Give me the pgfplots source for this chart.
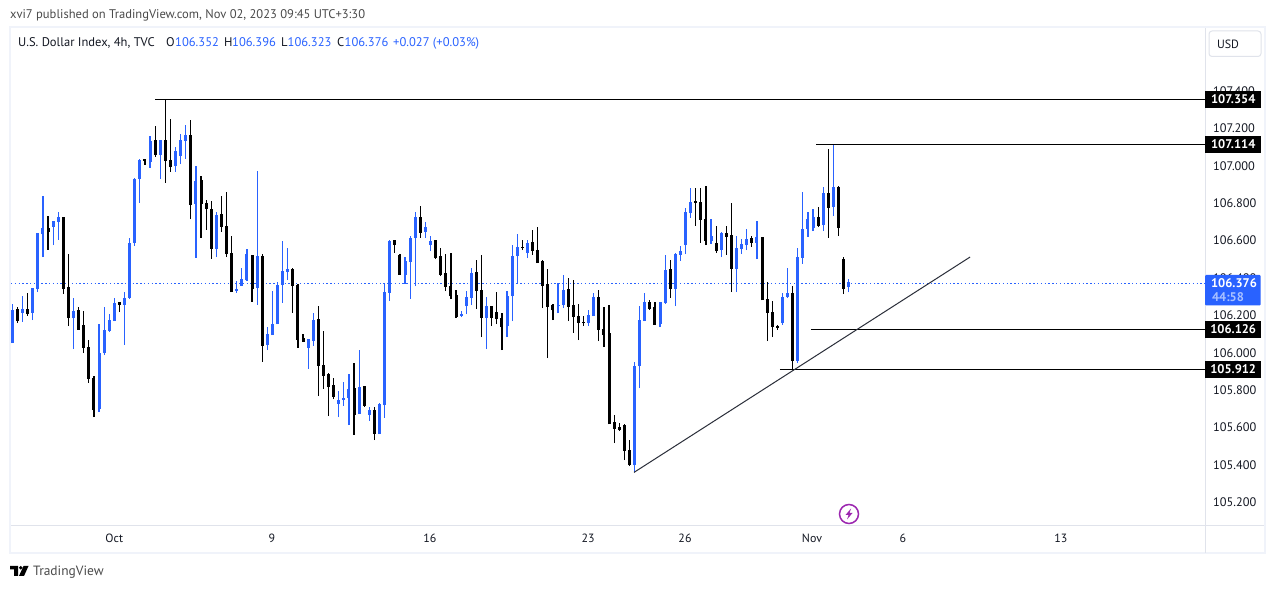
\documentclass[border=0pt]{standalone}
\usepackage{pgfplots}
\usepackage{pgfplotstable}
\usepackage{fontspec}
\setmainfont{PT Sans}
\pgfplotsset{compat=1.18}
\definecolor{tvblue}{HTML}{2962FF}
\definecolor{tvtext}{HTML}{131722}
\definecolor{tvgrey}{HTML}{4A4A4A}
\definecolor{tvframe}{HTML}{F0F3FA}
\definecolor{tvsep}{HTML}{E0E3EB}
\definecolor{tvtrend}{HTML}{2A2E39}
\definecolor{tvpurple}{HTML}{9C27B0}
\definecolor{tvlight}{HTML}{A9C1FF}
\pgfplotstableread{
i o h l c
0 106.052 106.261 106.052 106.229
2 106.213 106.304 106.165 106.234
4 106.213 106.347 106.175 106.347
5 106.341 106.641 106.325 106.641
6 106.635 106.838 106.512 106.667
8 106.673 106.705 106.576 106.705
9 106.699 106.753 106.603 106.726
12 106.186 106.293 106.020 106.224
17 105.700 106.154 105.684 105.999
18 105.999 106.245 105.988 106.122
19 106.117 106.207 106.111 106.175
20 106.170 106.293 106.170 106.266
22 106.256 106.325 106.042 106.293
23 106.293 106.614 106.288 106.587
24 106.587 106.935 106.571 106.929
25 106.929 107.036 106.801 107.031
27 107.020 107.159 106.988 107.132
29 107.058 107.138 106.929 107.138
32 106.999 107.100 106.967 107.079
33 107.052 107.170 107.009 107.138
34 107.132 107.218 107.036 107.164
36 106.796 106.999 106.507 106.919
40 106.555 106.753 106.512 106.737
44 106.331 106.384 106.320 106.341
45 106.357 106.454 106.357 106.395
46 106.389 106.555 106.384 106.528
48 106.347 106.972 106.256 106.518
50 106.042 106.138 106.015 106.101
51 106.095 106.331 106.095 106.154
52 106.154 106.379 106.154 106.363
53 106.363 106.598 106.267 106.438
54 106.432 106.561 106.389 106.448
58 106.026 106.074 105.914 106.074
59 106.063 106.213 106.037 106.176
64 105.727 105.796 105.657 105.748
65 105.748 105.844 105.716 105.759
66 105.759 105.887 105.614 105.807
68 105.673 106.015 105.673 105.817
70 105.668 105.711 105.636 105.694
72 105.566 105.732 105.566 105.727
73 105.721 106.373 105.652 106.325
74 106.320 106.603 106.277 106.598
77 106.416 106.512 106.368 106.491
78 106.486 106.625 106.288 106.614
79 106.614 106.753 106.357 106.726
81 106.646 106.700 106.614 106.673
82 106.576 106.624 106.544 106.597
88 106.196 106.223 106.191 106.207
89 106.250 106.330 106.207 106.298
90 106.293 106.453 106.255 106.426
93 106.186 106.298 106.020 106.250
97 106.143 106.330 106.084 106.303
98 106.303 106.576 106.170 106.517
99 106.517 106.635 106.367 106.565
101 106.533 106.603 106.506 106.587
107 106.250 106.373 106.212 106.255
108 106.255 106.416 106.239 106.335
113 106.159 106.228 106.143 106.202
114 106.196 106.319 106.196 106.298
122 105.400 105.951 105.361 105.929
123 105.929 106.250 105.812 106.175
124 106.170 106.320 106.170 106.271
127 106.154 106.271 106.138 106.271
128 106.266 106.523 106.261 106.443
130 106.341 106.533 106.250 106.528
131 106.523 106.571 106.491 106.544
132 106.576 106.774 106.528 106.753
133 106.747 106.881 106.721 106.806
137 106.598 106.715 106.582 106.624
139 106.549 106.646 106.512 106.640
142 106.448 106.624 106.325 106.560
143 106.555 106.608 106.528 106.582
144 106.576 106.662 106.549 106.608
146 106.587 106.705 106.501 106.619
151 106.159 106.320 106.149 106.298
152 106.298 106.453 106.293 106.320
154 105.956 106.560 105.945 106.512
155 106.507 106.860 106.475 106.662
156 106.662 106.753 106.619 106.715
157 106.667 106.769 106.651 106.726
159 106.683 106.886 106.651 106.854
161 106.779 107.114 106.731 106.886
164 106.352 106.396 106.323 106.376
}\upT
\pgfplotstableread{
i o h l c
1 106.234 106.245 106.159 106.170
3 106.234 106.320 106.197 106.207
7 106.667 106.731 106.550 106.646
10 106.726 106.726 106.314 106.341
11 106.352 106.528 106.143 106.186
13 106.229 106.245 106.122 106.122
14 106.149 106.224 105.999 106.026
15 106.031 106.068 105.839 105.860
16 105.865 105.876 105.657 105.694
21 106.272 106.272 106.218 106.256
26 107.036 107.036 107.004 107.025
28 107.138 107.213 107.047 107.058
30 107.138 107.354 106.908 107.025
31 107.031 107.250 106.967 106.993
35 107.164 107.245 106.715 106.790
37 106.924 106.945 106.614 106.796
38 106.801 106.817 106.657 106.769
39 106.769 106.812 106.502 106.555
41 106.742 106.839 106.646 106.673
42 106.678 106.860 106.512 106.528
43 106.534 106.625 106.325 106.325
47 106.523 106.523 106.272 106.341
49 106.518 106.528 105.951 106.037
55 106.448 106.454 106.213 106.357
56 106.363 106.368 106.026 106.069
57 106.079 106.101 106.058 106.058
60 106.181 106.250 105.769 105.930
61 105.935 106.117 105.807 105.876
62 105.887 105.892 105.662 105.817
63 105.828 105.866 105.753 105.764
67 105.812 105.946 105.561 105.668
69 105.823 105.823 105.711 105.716
71 105.694 105.711 105.534 105.566
75 106.603 106.603 106.534 106.577
76 106.523 106.528 106.416 106.416
80 106.726 106.785 106.614 106.641
83 106.603 106.603 106.501 106.506
84 106.517 106.560 106.410 106.416
85 106.426 106.528 106.330 106.351
86 106.357 106.533 106.287 106.303
87 106.309 106.335 106.186 106.191
91 106.432 106.496 106.234 106.330
92 106.335 106.523 106.084 106.186
94 106.250 106.250 106.143 106.186
95 106.218 106.325 106.154 106.180
96 106.186 106.212 106.015 106.138
100 106.565 106.603 106.549 106.560
102 106.592 106.656 106.523 106.544
103 106.549 106.672 106.480 106.480
104 106.490 106.496 106.239 106.357
105 106.367 106.448 105.972 106.245
106 106.255 106.261 106.175 106.228
109 106.341 106.400 106.170 106.245
110 106.255 106.389 106.106 106.191
111 106.196 106.261 106.068 106.159
112 106.164 106.196 106.143 106.159
115 106.298 106.335 106.063 106.122
116 106.127 106.245 106.031 106.095
117 106.106 106.255 105.619 105.619
118 105.630 105.667 105.517 105.592
119 105.603 105.624 105.582 105.587
120 105.614 105.619 105.427 105.475
121 105.480 105.533 105.394 105.400
125 106.271 106.282 106.229 106.234
126 106.245 106.271 106.149 106.149
129 106.448 106.496 106.293 106.341
134 106.811 106.881 106.678 106.801
135 106.806 106.881 106.587 106.710
136 106.715 106.892 106.576 106.598
138 106.587 106.678 106.533 106.544
140 106.640 106.678 106.523 106.619
141 106.630 106.801 106.325 106.448
145 106.614 106.624 106.566 106.587
147 106.619 106.619 106.282 106.282
148 106.288 106.378 106.063 106.213
149 106.218 106.277 106.084 106.138
150 106.143 106.149 106.122 106.133
153 106.320 106.357 105.912 105.956
158 106.726 106.779 106.672 106.678
160 106.854 107.089 106.614 106.774
162 106.886 106.892 106.624 106.667
163 106.501 106.512 106.314 106.341
}\downT
\tikzset{
  tag/.style={fill=black,text=white,font=\fontsize{12.6}{12.6}\selectfont\bfseries,minimum width=56bp,minimum height=17bp,inner sep=0pt,anchor=west},
  txt/.style={inner sep=0pt,anchor=base west,font=\fontsize{12.6}{13}\selectfont},
}
\begin{document}
\begin{tikzpicture}
\useasboundingbox (0bp,0bp) rectangle (1275bp,589bp);
\fill[white] (0bp,0bp) rectangle (1275bp,589bp);
% frame
\draw[tvframe,line width=2bp] (10bp,562bp) rectangle (1265bp,35.5bp);
\draw[tvsep,line width=1bp] (11bp,63bp) -- (1264bp,63bp);
\draw[tvsep,line width=1bp] (1205.5bp,36bp) -- (1205.5bp,561bp);
\begin{axis}[
  at={(11bp,63bp)},anchor=south west,
  width=1194bp,height=498bp,scale only axis,
  xmin=-0.255,xmax=233.86,ymin=105.0745,ymax=107.736,
  axis line style={draw=none},
  clip=false,
  tick style={draw=none},
  ytick={105.2,105.4,105.6,105.8,106.0,106.2,106.4,106.6,106.8,107.0,107.2,107.4},
  yticklabel pos=right,
  y tick label style={/pgf/number format/fixed,/pgf/number format/fixed zerofill,/pgf/number format/precision=3,/pgf/number format/assume math mode=true,font=\fontsize{12.4}{12.4}\selectfont,text=tvtext,anchor=west,xshift=8bp,inner sep=0pt},
  xtick={20,50.9,81.9,112.9,131.9,156.8,174.6,205.6},
  xticklabels={Oct,9,16,23,26,Nov,6,13},
  x tick label style={font=\fontsize{12}{12}\selectfont,text=tvtext,yshift=-4.5bp},
  scaled y ticks=false,
]
\addplot[tvblue,line width=1.2bp,dash pattern=on 1.4bp off 2.4bp] coordinates {(-0.255,106.372) (233.86,106.372)};
\addplot[draw=none,mark=none,error bars/.cd,y dir=plus,y explicit,error mark=none,error bar style={tvblue,line width=1.2bp}] table[x=i,y=l,y error plus expr=\thisrow{h}-\thisrow{l}] {\upT};
\addplot[draw=none,mark=none,error bars/.cd,y dir=plus,y explicit,error mark=none,error bar style={tvblue,line width=3bp}] table[x=i,y=o,y error plus expr=\thisrow{c}-\thisrow{o}] {\upT};
\addplot[draw=none,mark=none,error bars/.cd,y dir=plus,y explicit,error mark=none,error bar style={black,line width=1.2bp}] table[x=i,y=l,y error plus expr=\thisrow{h}-\thisrow{l}] {\downT};
\addplot[draw=none,mark=none,error bars/.cd,y dir=plus,y explicit,error mark=none,error bar style={black,line width=3bp}] table[x=i,y=c,y error plus expr=\thisrow{o}-\thisrow{c}] {\downT};
% drawn levels
\addplot[black,line width=1bp] coordinates {(28,107.354) (233.86,107.354)};
\addplot[black,line width=1bp] coordinates {(157.6,107.114) (233.86,107.114)};
\addplot[black,line width=1bp] coordinates {(156.6,106.126) (233.86,106.126)};
\addplot[black,line width=1bp] coordinates {(150.5,105.912) (233.86,105.912)};
\addplot[tvtrend,line width=1bp] coordinates {(121.9,105.361) (187.8,106.512)};
\coordinate (t1) at (axis cs:233.86,107.354);
\coordinate (t2) at (axis cs:233.86,107.114);
\coordinate (t3) at (axis cs:233.86,106.126);
\coordinate (t4) at (axis cs:233.86,105.912);
\end{axis}
\node[tag] at (t1) {107.354};
\node[tag] at (t2) {107.114};
\node[tag] at (t3) {106.126};
\node[tag] at (t4) {105.912};
\fill[tvblue,rounded corners=1bp] (1205bp,283.5bp) rectangle (1260.5bp,314bp);
\node[anchor=center,text=white,font=\fontsize{12.6}{12}\selectfont\bfseries,inner sep=0pt] at (1234bp,305.5bp) {106.376};
\node[anchor=center,text=tvlight,font=\fontsize{12.6}{12}\selectfont\bfseries,inner sep=0pt] at (1228bp,291.5bp) {44:58};
% USD button
\draw[tvsep,rounded corners=3bp,line width=1bp] (1209bp,558bp) rectangle (1261bp,532.5bp);
\node[anchor=center,text=tvtext,font=\fontsize{12}{12}\selectfont,inner sep=0pt] at (1228bp,544.5bp) {USD};
% header
\node[txt,text=tvgrey] at (10bp,570.3bp) {xvi7 published on TradingView.com, Nov 02, 2023 09:45 UTC+3:30};
\node[txt,text=tvtext] at (18bp,542.3bp) {U.S. Dollar Index, 4h, TVC};
\node[txt,text=tvtext] at (166bp,542.3bp) {O};
\node[txt,text=tvblue] at (175bp,542.3bp) {106.352};
\node[txt,text=tvtext] at (224bp,542.3bp) {H};
\node[txt,text=tvblue] at (232bp,542.3bp) {106.396};
\node[txt,text=tvtext] at (281bp,542.3bp) {L};
\node[txt,text=tvblue] at (287.5bp,542.3bp) {106.323};
\node[txt,text=tvtext] at (337bp,542.3bp) {C};
\node[txt,text=tvblue] at (344.5bp,542.3bp) {106.376};
\node[txt,text=tvblue] at (393bp,542.3bp) {+0.027 (+0.03\%)};
% footer
\node[txt,text=tvgrey,font=\fontsize{13.5}{14}\selectfont] at (33bp,13.5bp) {TradingView};
\fill[black] (10bp,23bp) -- (18bp,23bp) -- (18bp,13bp) -- (14bp,13bp) -- (14bp,19.5bp) -- (10bp,19.5bp) -- cycle;
\fill[black] (20.7bp,21.2bp) circle (1.9bp);
\fill[black] (23.5bp,23bp) -- (28.5bp,23bp) -- (24bp,13bp) -- (19bp,13bp) -- cycle;
% event icon
\draw[tvpurple,line width=1.5bp] (849bp,75bp) circle (9.5bp);
\fill[tvpurple] (851bp,80.5bp) -- (845.5bp,74bp) -- (848.5bp,74bp) -- (847bp,69.5bp) -- (852.5bp,76bp) -- (849.5bp,76bp) -- cycle;
\end{tikzpicture}
\end{document}
